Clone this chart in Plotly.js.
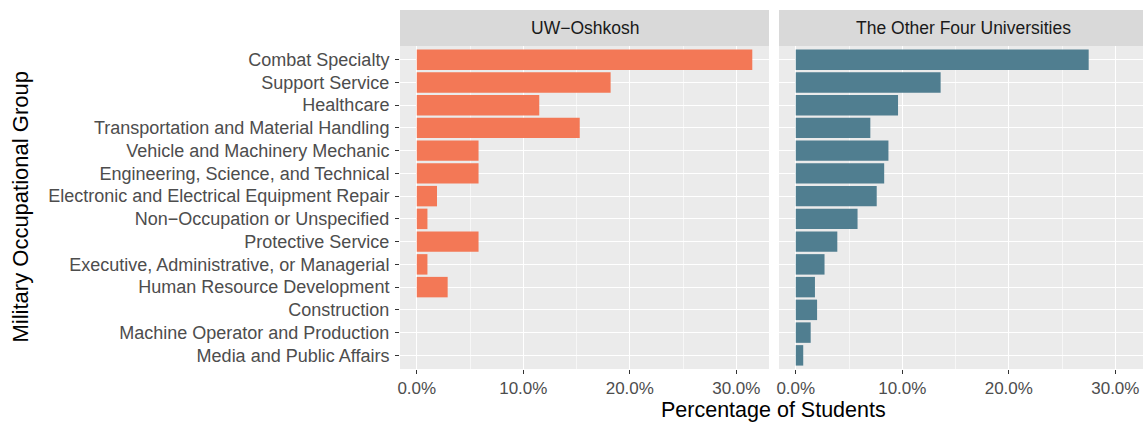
<!DOCTYPE html>
<html>
<head>
<meta charset="utf-8">
<script src="https://cdn.plot.ly/plotly-3.0.1.min.js"></script>
<style>html,body{margin:0;padding:0;background:#fff;}#chart{width:1143px;height:423px;}</style>
</head>
<body>
<div id="chart"></div>
<script>
const categories = [
  "Combat Specialty",
  "Support Service",
  "Healthcare",
  "Transportation and Material Handling",
  "Vehicle and Machinery Mechanic",
  "Engineering, Science, and Technical",
  "Electronic and Electrical Equipment Repair",
  "Non\u2212Occupation or Unspecified",
  "Protective Service",
  "Executive, Administrative, or Managerial",
  "Human Resource Development",
  "Construction",
  "Machine Operator and Production",
  "Media and Public Affairs"
];
const oshkoshValues = [31.5, 18.2, 11.5, 15.3, 5.8, 5.8, 1.9, 1.0, 5.8, 1.0, 2.9, 0, 0, 0];
const otherValues = [27.5, 13.6, 9.6, 7.0, 8.7, 8.3, 7.6, 5.8, 3.9, 2.7, 1.8, 2.0, 1.4, 0.7];
const panelTitles = ["UW\u2212Oshkosh", "The Other Four Universities"];
const xTickVals = [0, 10, 20, 30];
const xTickText = ["0.0%", "10.0%", "20.0%", "30.0%"];

const W = 1143, H = 423;
const px = v => v / W;
const py = v => 1 - v / H;

const font = "'Liberation Sans', Arial, Helvetica, sans-serif";

const traces = [
  {type: 'bar', orientation: 'h', x: oshkoshValues, y: categories, xaxis: 'x', yaxis: 'y',
   marker: {color: '#F37856'}, hoverinfo: 'x+y'},
  {type: 'bar', orientation: 'h', x: otherValues, y: categories, xaxis: 'x2', yaxis: 'y2',
   marker: {color: '#507E90'}, hoverinfo: 'x+y'}
];

const xCommon = {
  tickvals: xTickVals, ticktext: xTickText,
  showgrid: true, gridcolor: '#FFFFFF', gridwidth: 1.2,
  minor: {dtick: 5, tick0: 0, showgrid: true, gridcolor: '#FFFFFF', gridwidth: 0.6, ticks: ''},
  zeroline: false, showline: false,
  ticks: 'outside', ticklen: 4, tickwidth: 1.1, tickcolor: '#333333',
  tickfont: {family: font, size: 17, color: '#4D4D4D'},
  fixedrange: true
};
const yCommon = {
  type: 'category', categoryorder: 'array', categoryarray: categories,
  range: [13.6, -0.6],
  showgrid: true, gridcolor: '#FFFFFF', gridwidth: 1.2,
  zeroline: false, showline: false,
  fixedrange: true
};

const layout = {
  width: W, height: H,
  margin: {l: 0, r: 0, t: 0, b: 0},
  paper_bgcolor: '#FFFFFF', plot_bgcolor: '#EBEBEB',
  showlegend: false, bargap: 0.1,
  xaxis: Object.assign({}, xCommon, {domain: [px(400), px(769)], range: [-1.575, 33.07], anchor: 'y'}),
  xaxis2: Object.assign({}, xCommon, {domain: [px(779), px(1143)], range: [-1.575, 32.6], anchor: 'y2'}),
  yaxis: Object.assign({}, yCommon, {domain: [py(369), py(46)], anchor: 'x',
    ticks: 'outside', ticklen: 4, tickwidth: 1.1, tickcolor: '#333333', ticklabelstandoff: 2,
    tickfont: {family: font, size: 18, color: '#4D4D4D'}}),
  yaxis2: Object.assign({}, yCommon, {domain: [py(369), py(46)], anchor: 'x2', matches: 'y', showticklabels: false, ticks: ''}),
  shapes: [
    {type: 'rect', xref: 'paper', yref: 'paper', x0: px(400), x1: px(769), y0: py(46), y1: py(10), fillcolor: '#D9D9D9', line: {width: 0}, layer: 'below'},
    {type: 'rect', xref: 'paper', yref: 'paper', x0: px(779), x1: px(1143), y0: py(46), y1: py(10), fillcolor: '#D9D9D9', line: {width: 0}, layer: 'below'}
  ],
  annotations: [
    {text: panelTitles[0], xref: 'paper', yref: 'paper', x: px(584.5), y: py(28), showarrow: false, xanchor: 'center', yanchor: 'middle', font: {family: font, size: 17.5, color: '#1A1A1A'}},
    {text: panelTitles[1], xref: 'paper', yref: 'paper', x: px(963.5), y: py(28), showarrow: false, xanchor: 'center', yanchor: 'middle', font: {family: font, size: 17.5, color: '#1A1A1A'}},
    {text: 'Percentage of Students', xref: 'paper', yref: 'paper', x: px(773), y: py(410), showarrow: false, xanchor: 'center', yanchor: 'middle', font: {family: font, size: 21.5, color: '#000000'}},
    {text: 'Military Occupational Group', xref: 'paper', yref: 'paper', x: px(20), y: py(207.5), showarrow: false, textangle: -90, xanchor: 'center', yanchor: 'middle', font: {family: font, size: 22, color: '#000000'}}
  ]
};

Plotly.newPlot('chart', traces, layout, {displayModeBar: false, staticPlot: true});
</script>
</body>
</html>
